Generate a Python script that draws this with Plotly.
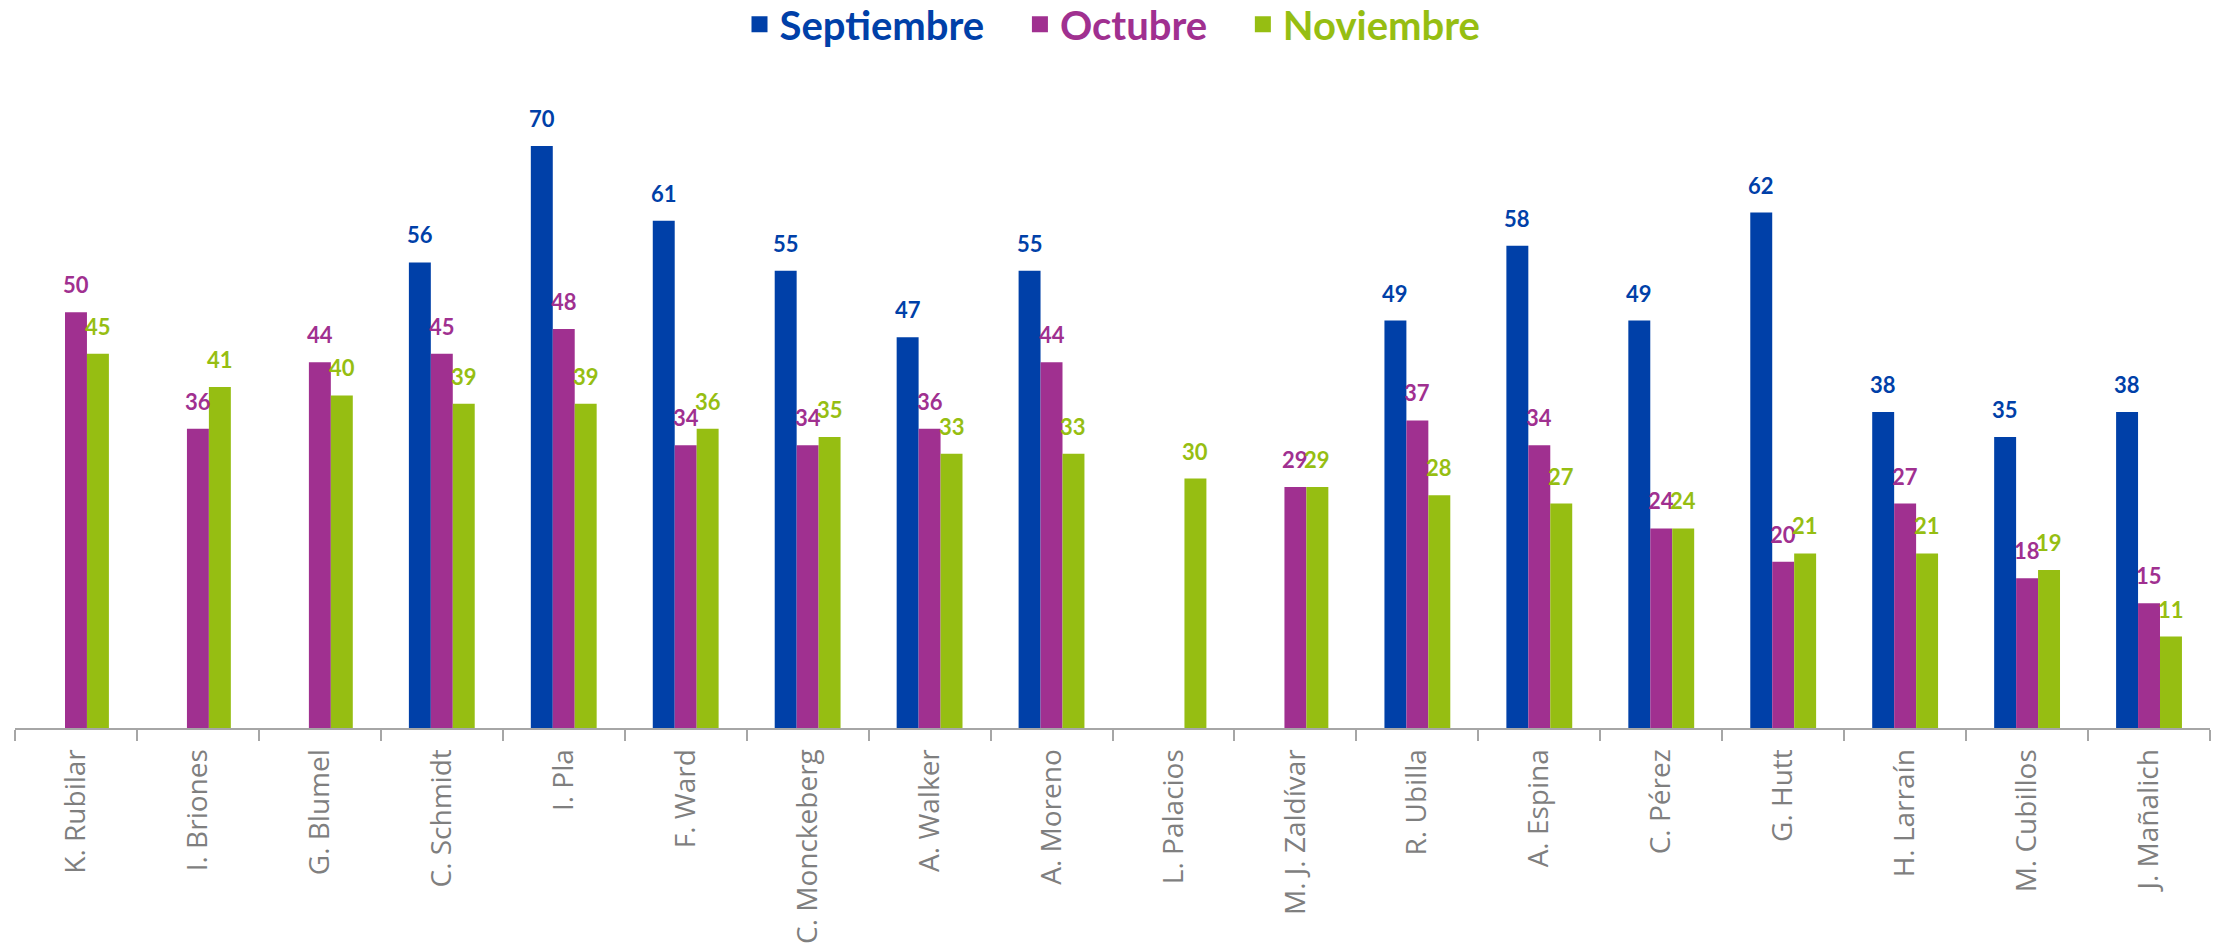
import plotly.graph_objects as go

categories = ["K. Rubilar", "I. Briones", "G. Blumel", "C. Schmidt", "I. Pla", "F. Ward",
              "C. Monckeberg", "A. Walker", "A. Moreno", "L. Palacios", "M. J. Zaldívar",
              "R. Ubilla", "A. Espina", "C. Pérez", "G. Hutt", "H. Larraín", "M. Cubillos",
              "J. Mañalich"]
septiembre = [None, None, None, 56, 70, 61, 55, 47, 55, None, None, 49, 58, 49, 62, 38, 35, 38]
octubre = [50, 36, 44, 45, 48, 34, 34, 36, 44, None, 29, 37, 34, 24, 20, 27, 18, 15]
noviembre = [45, 41, 40, 39, 39, 36, 35, 33, 33, 30, 29, 28, 27, 24, 21, 21, 19, 11]
series_names = ["Septiembre", "Octubre", "Noviembre"]
series_values = [septiembre, octubre, noviembre]
colors = ["#0040A8", "#A03090", "#96BE12"]

W, H = 2221, 947
ML, MR, MT, MB = 15, 11, 80, 219
BARGAP = 0.46
YMAX = 77.94

cat_w = (W - ML - MR) / len(categories)
bar_w = cat_w * (1 - BARGAP) / len(series_names)

fig = go.Figure()
for name, vals, col in zip(series_names, series_values, colors):
    fig.add_trace(go.Bar(x=categories, y=vals, name=name, marker=dict(color=col, line=dict(width=0)),
                         showlegend=False, hoverinfo="x+y"))
for k, (name, col) in enumerate(zip(series_names, colors)):
    pad = "&nbsp;" * 3 if k < len(series_names) - 1 else ""
    fig.add_trace(go.Scatter(x=[None], y=[None], mode="markers",
                             name=f"<span style='color:{col}'><b>{name}</b></span>{pad}",
                             marker=dict(symbol="square", size=16, color=col), showlegend=True))

annotations = []
for i, (vals, col) in enumerate(zip(series_values, colors)):
    off = (i - 1) * bar_w
    for c, v in zip(categories, vals):
        if v is None:
            continue
        annotations.append(dict(x=c, y=v, xref="x", yref="y", text=f"<b>{v}</b>", showarrow=False,
                                yanchor="bottom", xanchor="center", xshift=off, yshift=12,
                                font=dict(family="Lato", size=22, color=col)))

fig.update_layout(
    template="none",
    width=W, height=H,
    margin=dict(l=ML, r=MR, t=MT, b=MB, pad=0, autoexpand=False),
    paper_bgcolor="white", plot_bgcolor="white",
    barmode="group", bargap=BARGAP, bargroupgap=0,
    annotations=annotations,
    legend=dict(orientation="h", x=0.5, xanchor="center", y=1.086, yanchor="middle",
                font=dict(family="Lato", size=40), bgcolor="rgba(0,0,0,0)"),
    xaxis=dict(type="category", showline=True, linecolor="#A6A6A6", linewidth=2,
               ticks="outside", tickson="boundaries", ticklen=11, tickcolor="#A6A6A6", tickwidth=2,
               tickangle=-90, tickfont=dict(family="Open Sans", size=28, color="#7F7F7F"),
               ticklabelstandoff=8,
               showgrid=False, zeroline=False, automargin=False),
    yaxis=dict(visible=False, range=[0, YMAX], showgrid=False, zeroline=False, automargin=False),
    showlegend=True,
)

fig.write_html("out.html", config={"displayModeBar": False},
               post_script="document.body.style.margin='0';document.body.style.overflow='hidden';")
